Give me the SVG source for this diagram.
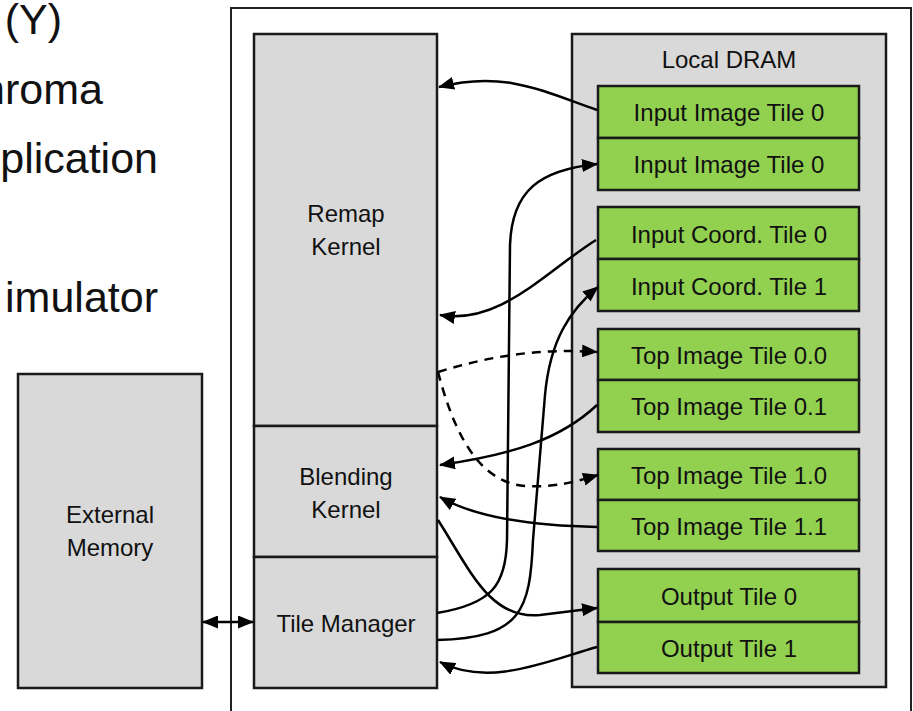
<svg xmlns="http://www.w3.org/2000/svg" width="913" height="711" viewBox="0 0 913 711">
  <style>
    .box { fill: #d9d9d9; stroke: #1a1a1a; stroke-width: 2.5; }
    .tile { fill: #92d050; stroke: #1a1a1a; stroke-width: 2.5; }
    .lbl { font-family: "Liberation Sans", Arial, sans-serif; font-size: 24px; fill: #111; text-anchor: middle; }
    .slide { font-family: "Liberation Sans", Arial, sans-serif; font-size: 43px; fill: #111; text-anchor: end; }
    .wire { fill: none; stroke: #000; stroke-width: 2.5; }
    .dash { stroke-dasharray: 9 7; }
  </style>
  <defs>
    <marker id="arrow" viewBox="0 0 16 13" refX="15" refY="6.5" markerWidth="16" markerHeight="13" markerUnits="userSpaceOnUse" orient="auto-start-reverse">
      <path d="M0,0 L16,6.5 L0,13 Z" fill="#000"/>
    </marker>
  </defs>

  <!-- partial slide text on the left -->
  <g id="slide-text">
    <text class="slide" x="62" y="34">(Y)</text>
    <text class="slide" x="103" y="104">hroma</text>
    <text class="slide" x="158" y="173">plication</text>
    <text class="slide" x="158" y="312">imulator</text>
  </g>

  <!-- accelerator boundary -->
  <rect id="accelerator" x="231" y="8" width="680" height="720" fill="#fff" stroke="#222" stroke-width="2"/>

  <g id="external-memory">
    <rect class="box" x="18" y="374" width="184" height="314"/>
    <text class="lbl" x="110" y="523">External</text>
    <text class="lbl" x="110" y="556">Memory</text>
  </g>

  <g id="remap-kernel">
    <rect class="box" x="254" y="34" width="183" height="392"/>
    <text class="lbl" x="346" y="222">Remap</text>
    <text class="lbl" x="346" y="255">Kernel</text>
  </g>

  <g id="blending-kernel">
    <rect class="box" x="254" y="426" width="183" height="131"/>
    <text class="lbl" x="346" y="485">Blending</text>
    <text class="lbl" x="346" y="518">Kernel</text>
  </g>

  <g id="tile-manager">
    <rect class="box" x="254" y="557" width="183" height="131"/>
    <text class="lbl" x="346" y="632">Tile Manager</text>
  </g>

  <g id="local-dram">
    <rect class="box" x="572" y="34" width="314" height="653"/>
    <text class="lbl" x="729" y="68">Local DRAM</text>
  </g>

  <g id="input-image-tile-0a">
    <rect class="tile" x="598" y="86" width="261" height="52"/>
    <text class="lbl" x="729" y="121">Input Image Tile 0</text>
  </g>
  <g id="input-image-tile-0b">
    <rect class="tile" x="598" y="138" width="261" height="52"/>
    <text class="lbl" x="729" y="173">Input Image Tile 0</text>
  </g>
  <g id="input-coord-tile-0">
    <rect class="tile" x="598" y="207" width="261" height="52"/>
    <text class="lbl" x="729" y="243">Input Coord. Tile 0</text>
  </g>
  <g id="input-coord-tile-1">
    <rect class="tile" x="598" y="259" width="261" height="52"/>
    <text class="lbl" x="729" y="295">Input Coord. Tile 1</text>
  </g>
  <g id="top-image-tile-0-0">
    <rect class="tile" x="598" y="329" width="261" height="51"/>
    <text class="lbl" x="729" y="364">Top Image Tile 0.0</text>
  </g>
  <g id="top-image-tile-0-1">
    <rect class="tile" x="598" y="380" width="261" height="52"/>
    <text class="lbl" x="729" y="415">Top Image Tile 0.1</text>
  </g>
  <g id="top-image-tile-1-0">
    <rect class="tile" x="598" y="449" width="261" height="51"/>
    <text class="lbl" x="729" y="484">Top Image Tile 1.0</text>
  </g>
  <g id="top-image-tile-1-1">
    <rect class="tile" x="598" y="500" width="261" height="51"/>
    <text class="lbl" x="729" y="535">Top Image Tile 1.1</text>
  </g>
  <g id="output-tile-0">
    <rect class="tile" x="598" y="569" width="261" height="53"/>
    <text class="lbl" x="729" y="605">Output Tile 0</text>
  </g>
  <g id="output-tile-1">
    <rect class="tile" x="598" y="622" width="261" height="51"/>
    <text class="lbl" x="729" y="657">Output Tile 1</text>
  </g>

  <g id="connectors">
    <!-- external memory <-> tile manager -->
    <path class="wire" d="M203,622 L253,622" marker-start="url(#arrow)" marker-end="url(#arrow)"/>
    <!-- input image tile 0 -> remap -->
    <path class="wire" d="M597,110 C545,92 505,70 439,87" marker-end="url(#arrow)"/>
    <!-- tile manager -> input image tile 0 (second) -->
    <path class="wire" d="M437,613 C492,604 506,585 507,540 L510,245 C512,190 540,170 597,164" marker-end="url(#arrow)"/>
    <!-- input coord tile 0 -> remap -->
    <path class="wire" d="M596,240 C545,272 500,325 440,315" marker-end="url(#arrow)"/>
    <!-- tile manager -> input coord tile 1 -->
    <path class="wire" d="M437,640 C522,638 530,610 533,540 L545,395 C550,340 570,310 598,287" marker-end="url(#arrow)"/>
    <!-- remap -> top image tile 0.0 (dashed) -->
    <path class="wire dash" d="M438,372 C490,356 540,348 597,352" marker-end="url(#arrow)"/>
    <!-- remap -> top image tile 1.0 (dashed) -->
    <path class="wire dash" d="M438,372 C452,425 475,482 525,486 C555,488 578,481 598,475" marker-end="url(#arrow)"/>
    <!-- top image tile 0.1 -> blending -->
    <path class="wire" d="M597,405 C560,440 510,455 440,465" marker-end="url(#arrow)"/>
    <!-- top image tile 1.1 -> blending -->
    <path class="wire" d="M597,527 C540,526 480,520 440,497" marker-end="url(#arrow)"/>
    <!-- blending -> output tile 0 -->
    <path class="wire" d="M438,520 C470,570 490,620 540,615 C565,612 580,610 597,608" marker-end="url(#arrow)"/>
    <!-- output tile 1 -> tile manager -->
    <path class="wire" d="M597,647 C550,660 490,688 440,662" marker-end="url(#arrow)"/>
  </g>
</svg>
